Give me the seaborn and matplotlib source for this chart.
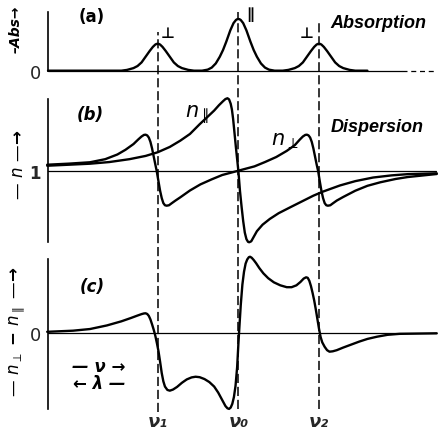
import numpy as np
import pandas as pd
import seaborn as sns
import matplotlib.pyplot as plt

# frequency in units where nu1=-1, nu0=0, nu2=+1
nu_pos = [-1.0, 0.0, 1.0]
nu_labels = ["ν₁", "ν₀", "ν₂"]

# (a) absorption
abs_x = [-2.36, -1.6, -1.45, -1.38, -1.30, -1.25, -1.20, -1.15, -1.10, -1.06, -1.03, -1.015, -1.00,
         -0.985, -0.97, -0.94, -0.90, -0.85, -0.80, -0.75, -0.70, -0.62, -0.55,
         -0.45, -0.38, -0.33, -0.28, -0.23, -0.19, -0.15, -0.10, -0.06, -0.03, -0.015, 0.00,
         0.015, 0.03, 0.06, 0.10, 0.15, 0.19, 0.23, 0.28, 0.33, 0.38, 0.45,
         0.55, 0.62, 0.70, 0.75, 0.80, 0.85, 0.90, 0.94, 0.97, 0.985, 1.00,
         1.015, 1.03, 1.06, 1.10, 1.15, 1.20, 1.25, 1.30, 1.38, 1.45, 1.60]
abs_y = [0, 0, 0, 0.015, 0.05, 0.09, 0.16, 0.27, 0.38, 0.46, 0.505, 0.517, 0.52,
         0.517, 0.505, 0.46, 0.38, 0.27, 0.16, 0.09, 0.05, 0.015, 0,
         0, 0.02, 0.06, 0.14, 0.27, 0.40, 0.56, 0.78, 0.92, 0.98, 0.995, 1.0,
         0.995, 0.98, 0.92, 0.78, 0.56, 0.40, 0.27, 0.14, 0.06, 0.02, 0,
         0, 0.015, 0.05, 0.09, 0.16, 0.27, 0.38, 0.46, 0.505, 0.517, 0.52,
         0.517, 0.505, 0.46, 0.38, 0.27, 0.16, 0.09, 0.05, 0.015, 0, 0]

# (b) dispersion, n parallel
npar_x = [-2.37, -2.1, -1.84, -1.6, -1.35, -1.15, -1.0, -0.85, -0.72, -0.6, -0.48, -0.38, -0.3,
          -0.24, -0.19, -0.16, -0.135, -0.115, -0.095, -0.08, -0.065, -0.05, -0.03, 0.0, 0.02,
          0.04, 0.06, 0.08, 0.10, 0.12, 0.135, 0.16, 0.19, 0.23, 0.3, 0.39, 0.5, 0.64, 0.8,
          0.93, 1.05, 1.26, 1.45, 1.67, 1.9, 2.1, 2.46]
npar_y = [1.0069, 1.0083, 1.0097, 1.0120, 1.0160, 1.0205, 1.0256, 1.033, 1.0417, 1.051, 1.0645,
          1.075, 1.0835, 1.091, 1.0965, 1.0995, 1.1006, 1.099, 1.093, 1.085, 1.072, 1.055, 1.032,
          1.0, 0.972, 0.950, 0.930, 0.914, 0.905, 0.9012, 0.9006, 0.902, 0.908, 0.916, 0.925,
          0.933, 0.941, 0.949, 0.958, 0.9653, 0.971, 0.9795, 0.9855, 0.9905, 0.9935, 0.9952, 0.9964]

# (b) dispersion, n perpendicular
nperp_x = [-2.37, -2.1, -1.84, -1.65, -1.5, -1.4, -1.3, -1.24, -1.2, -1.17, -1.15, -1.13, -1.11,
           -1.09, -1.07, -1.05, -1.03, -1.013, -0.99, -0.97, -0.95, -0.93, -0.91, -0.889, -0.86,
           -0.83, -0.78, -0.72, -0.6, -0.47, -0.33, -0.2, 0.0, 0.2, 0.33, 0.47, 0.6, 0.7, 0.76,
           0.80, 0.83, 0.85, 0.87, 0.89, 0.91, 0.93, 0.95, 0.97, 0.99, 1.01, 1.03, 1.05, 1.07,
           1.09, 1.11, 1.14, 1.17, 1.22, 1.3, 1.45, 1.6, 1.76, 1.95, 2.1, 2.46]
nperp_y = [1.0083, 1.0098, 1.0117, 1.0160, 1.0225, 1.029, 1.037, 1.0435, 1.0475, 1.0497, 1.0500,
           1.0490, 1.046, 1.040, 1.031, 1.020, 1.009, 1.0, 0.985, 0.972, 0.962, 0.955, 0.952,
           0.9514, 0.952, 0.9545, 0.9585, 0.963, 0.9725, 0.981, 0.988, 0.994, 1.0, 1.006, 1.012,
           1.019, 1.0275, 1.0355, 1.043, 1.0475, 1.0497, 1.0500, 1.049, 1.046, 1.040, 1.031,
           1.020, 1.009, 0.999, 0.985, 0.972, 0.962, 0.955, 0.952, 0.9514, 0.952, 0.9545, 0.9585,
           0.9635, 0.9722, 0.979, 0.9839, 0.9885, 0.9912, 0.9954]

# (c) n_perp - n_par
diff_x = [-2.37, -2.05, -1.84, -1.63, -1.45, -1.33, -1.25, -1.2, -1.17, -1.15, -1.13, -1.11, -1.09,
          -1.07, -1.05, -1.03, -1.01, -0.99, -0.97, -0.95, -0.93, -0.91, -0.88, -0.85, -0.81,
          -0.76, -0.70, -0.64, -0.58, -0.53, -0.48, -0.42, -0.36, -0.3, -0.25, -0.2, -0.16,
          -0.135, -0.115, -0.095, -0.075, -0.055, -0.035, -0.015, 0.0, 0.015, 0.03, 0.05, 0.07,
          0.09, 0.11, 0.13, 0.145, 0.165, 0.19, 0.22, 0.26, 0.31, 0.37, 0.44, 0.52, 0.6, 0.66,
          0.72, 0.77, 0.81, 0.84, 0.86, 0.88, 0.9, 0.92, 0.94, 0.96, 0.98, 1.0, 1.02, 1.04, 1.07,
          1.1, 1.13, 1.17, 1.22, 1.3, 1.4, 1.5, 1.6, 1.72, 1.85, 2.0, 2.46]
diff_y = [0.02, 0.035, 0.057, 0.105, 0.16, 0.205, 0.237, 0.256, 0.265, 0.267, 0.258, 0.232, 0.185,
          0.12, 0.05, -0.03, -0.13, -0.24, -0.38, -0.53, -0.64, -0.71, -0.755, -0.765, -0.75,
          -0.715, -0.66, -0.615, -0.588, -0.579, -0.585, -0.61, -0.65, -0.71, -0.79, -0.89, -0.97,
          -1.0, -1.008, -0.99, -0.94, -0.85, -0.70, -0.45, -0.15, 0.12, 0.38, 0.65, 0.82,
          0.93, 0.985, 1.015, 1.021, 1.008, 0.978, 0.935, 0.87, 0.8, 0.735, 0.68, 0.64, 0.615, 0.615,
          0.64, 0.685, 0.73, 0.747, 0.74, 0.70, 0.63, 0.54, 0.44, 0.32, 0.19, 0.06, -0.05, -0.12, -0.18,
          -0.225, -0.245, -0.24, -0.225, -0.19, -0.15, -0.11, -0.075, -0.045, -0.02, -0.007, 0.0]

sns.set_style("white")
plt.rcParams['font.family'] = ['DejaVu Sans']

W, H = 442, 431
XL = (-2.36, 2.50)
fig = plt.figure(figsize=(W / 100, H / 100), dpi=100)

def box(top, bottom):
    return [48 / W, 1 - bottom / H, 392 / W, (bottom - top) / H]

def fxy(px, py):
    return px / W, 1 - py / H

ax_a = fig.add_axes(box(5, 95))
ax_b = fig.add_axes(box(95, 245))
ax_c = fig.add_axes(box(245, 412))

lw_curve = 1.7
for ax, yl, bnd, base in [(ax_a, (-0.451, 1.29), (0, 1.135), 0),
                          (ax_b, (0.8982, 1.1065), (0.901, 1.0996), 1),
                          (ax_c, (-1.036, 1.191), (-1.009, 0.99), 0)]:
    ax.set_facecolor("none")
    ax.set_xlim(XL)
    ax.set_ylim(yl)
    for s in ["top", "right", "bottom"]:
        ax.spines[s].set_visible(False)
    ax.spines["left"].set_bounds(*bnd)
    ax.spines["left"].set_linewidth(1.2)
    ax.spines["left"].set_color("black")
    ax.set_xticks([])
    ax.set_yticks([base])
    ax.tick_params(axis="y", length=0, pad=5, labelsize=13)
    ax.axhline(base, xmin=0, xmax=(436 - 48) / 392 if ax is not ax_a else (402 - 48) / 392,
               color="black", lw=0.9)

ax_a.set_yticklabels(["0"])
ax_b.set_yticklabels(["1"], fontweight="bold", fontsize=12)
ax_c.set_yticklabels(["0"])
ax_a.axhline(0, xmin=(402 - 48) / 392, xmax=(436 - 48) / 392, color="black", lw=0.9, ls=(0, (4, 3)))

df_a = pd.DataFrame({"x": abs_x, "y": abs_y})
sns.lineplot(data=df_a, x="x", y="y", ax=ax_a, sort=False, estimator=None, color="black", lw=lw_curve)
for xs, ys in [(npar_x, npar_y), (nperp_x, nperp_y)]:
    sns.lineplot(x=xs, y=ys, ax=ax_b, sort=False, estimator=None, color="black", lw=lw_curve)
sns.lineplot(x=diff_x, y=diff_y, ax=ax_c, sort=False, estimator=None, color="black", lw=lw_curve)
for ax in [ax_a, ax_b, ax_c]:
    ax.set(xlabel="", ylabel="")
    for ln in ax.lines:
        ln.set_clip_on(False)
        ln.set_solid_joinstyle("round")

ax_c.set_xticks(nu_pos)
ax_c.set_xticklabels(nu_labels, fontsize=13, fontweight="bold", fontstyle="italic")
ax_c.tick_params(axis="x", length=0, pad=1)

# dashed guide lines through all three panels
ax_ov = fig.add_axes([48 / W, 0, 392 / W, 1])
ax_ov.set_xlim(XL)
ax_ov.set_ylim(H, 0)
ax_ov.axis("off")
ax_ov.vlines(nu_pos, [413, 410, 410], [33, 13, 23], colors="black", lw=1.1,
             linestyles=(0, (6, 2.5)))

bold = dict(fontweight="bold", ha="center", va="center", color="black")
fig.text(*fxy(92, 17), "(a)", fontsize=12, **bold)
fig.text(*fxy(90, 115), "(b)", fontsize=12, fontstyle="italic", **bold)
fig.text(*fxy(92, 287), "(c)", fontsize=12, fontstyle="italic", **bold)
fig.text(*fxy(168, 34), "⊥", fontsize=11, **bold)
fig.text(*fxy(250, 14), "∥", fontsize=11, fontstyle="italic", **bold)
fig.text(*fxy(307, 34), "⊥", fontsize=11, **bold)
fig.text(*fxy(378, 23), "Absorption", fontsize=13, fontstyle="italic",
         family="Liberation Sans", **bold)
fig.text(*fxy(377, 128), "Dispersion", fontsize=13, fontstyle="italic",
         family="Liberation Sans", **bold)
fig.text(*fxy(197, 115), r"$n_{\parallel}$", fontsize=15, **bold)
fig.text(*fxy(285, 141), r"$n_{\perp}$", fontsize=15, **bold)

fig.text(*fxy(16, 29), "–Abs→", fontsize=10, rotation=90, fontstyle="italic", **bold)
fig.text(*fxy(18, 165), r"— $n$ —→", fontsize=12, rotation=90, **bold)
fig.text(*fxy(17, 332), r"— $n_{\perp}$ − $n_{\parallel}$ —→", fontsize=12, rotation=90, **bold)

fig.text(*fxy(99, 367), "— ν →", fontsize=12, fontstyle="italic", **bold)
fig.text(*fxy(99, 384), "← λ —", fontsize=12, fontstyle="italic", **bold)

fig.savefig("out.png", dpi=100)
